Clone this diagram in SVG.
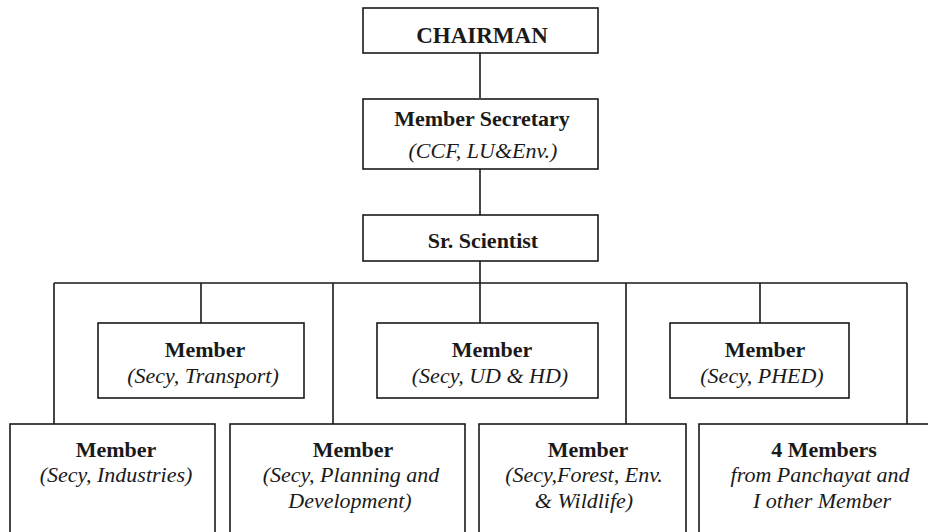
<svg xmlns="http://www.w3.org/2000/svg" width="928" height="532" viewBox="0 0 928 532">
<style>
.box{fill:#ffffff;stroke:#1a1a1a;stroke-width:1.6}
.ln{stroke:#1a1a1a;stroke-width:1.6;fill:none}
.b{font-family:"Liberation Serif","Times New Roman",serif;font-weight:bold;font-size:22px;fill:#1a1a1a;text-anchor:middle}
.i{font-family:"Liberation Serif","Times New Roman",serif;font-style:italic;font-size:22px;fill:#1a1a1a;text-anchor:middle}
</style>
<rect width="928" height="532" fill="#ffffff"/>
<g id="connectors">
<path class="ln" d="M480 53V98M480 169V215M480 261V323M54 283H907M54 283V424M201 283V323M333 283V424M626 283V424M760 283V323M907 283V424"/>
</g>
<g id="chairman">
<rect class="box" x="363" y="8" width="235" height="45"/>
<text class="b" x="482" y="43" style="font-size:23px">CHAIRMAN</text>
</g>
<g id="member-secretary">
<rect class="box" x="363" y="99" width="235" height="70"/>
<text class="b" x="482" y="126">Member Secretary</text>
<text class="i" x="483" y="158">(CCF, LU&amp;Env.)</text>
</g>
<g id="sr-scientist">
<rect class="box" x="363" y="215" width="235" height="46"/>
<text class="b" x="483" y="248">Sr. Scientist</text>
</g>
<g id="member-transport">
<rect class="box" x="98" y="323" width="206" height="75"/>
<text class="b" x="205" y="357">Member</text>
<text class="i" x="203" y="383">(Secy, Transport)</text>
</g>
<g id="member-udhd">
<rect class="box" x="377" y="323" width="221" height="75"/>
<text class="b" x="492" y="357">Member</text>
<text class="i" x="490" y="383">(Secy, UD &amp; HD)</text>
</g>
<g id="member-phed">
<rect class="box" x="670" y="323" width="179" height="75"/>
<text class="b" x="765" y="357">Member</text>
<text class="i" x="762" y="383">(Secy, PHED)</text>
</g>
<g id="member-industries">
<rect class="box" x="10" y="424" width="205" height="120"/>
<text class="b" x="116" y="457">Member</text>
<text class="i" x="116" y="482">(Secy, Industries)</text>
</g>
<g id="member-planning">
<rect class="box" x="230" y="424" width="235" height="120"/>
<text class="b" x="353" y="457">Member</text>
<text class="i" x="351" y="482">(Secy, Planning and</text>
<text class="i" x="350" y="508">Development)</text>
</g>
<g id="member-forest">
<rect class="box" x="479" y="424" width="207" height="120"/>
<text class="b" x="588" y="457">Member</text>
<text class="i" x="584" y="482">(Secy,Forest, Env.</text>
<text class="i" x="584" y="508">&amp; Wildlife)</text>
</g>
<g id="four-members">
<rect class="box" x="699" y="424" width="246" height="120"/>
<text class="b" x="824" y="457">4 Members</text>
<text class="i" x="820" y="482">from Panchayat and</text>
<text class="i" x="822" y="508">I other Member</text>
</g>
</svg>
